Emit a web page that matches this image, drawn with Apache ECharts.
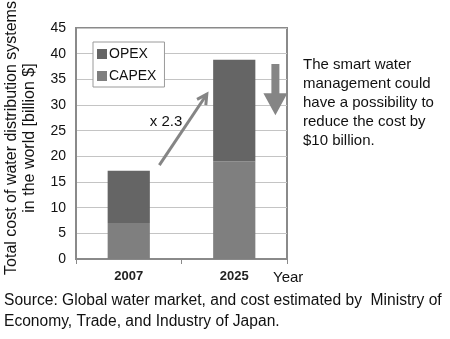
<!DOCTYPE html>
<html>
<head>
<meta charset="utf-8">
<script src="https://cdn.jsdelivr.net/npm/echarts@6/dist/echarts.min.js"></script>
<style>
  html, body { margin: 0; padding: 0; background: #fff; }
  #chart { width: 450px; height: 339px; }
</style>
</head>
<body>
<div id="chart"></div>
<script>
// Years on the category axis
const years = ['2007', '2025'];
// Cost breakdown in billion dollars
const capex = [7.0, 19.0];
const opex = [10.2, 19.8];
// Value axis ticks
const yMin = 0, yMax = 45, yStep = 5;
// Possible saving shown by the downward arrow (billion $)
const savingFrom = 38, savingTo = 28;
// Growth arrow end values and factor
const growthFrom = 18.3, growthTo = 32.1;
const growthLabel = 'x 2.3';

const FONT = '"Liberation Sans", Arial, sans-serif';
const chart = echarts.init(document.getElementById('chart'), null, { renderer: 'canvas' });

const grid = { left: 76, top: 28, width: 211, height: 231 };

chart.setOption({
  animation: false,
  backgroundColor: '#ffffff',
  grid: Object.assign({ show: true, borderColor: '#8a8a8a', borderWidth: 2, backgroundColor: 'transparent' }, grid),
  legend: {
    orient: 'vertical',
    left: 93, top: 42,
    width: 70,
    padding: [5, 8, 4, 4],
    itemWidth: 10, itemHeight: 10,
    itemGap: 8,
    borderColor: '#9a9a9a', borderWidth: 1,
    backgroundColor: '#fff',
    icon: 'rect',
    data: ['OPEX', 'CAPEX'],
    textStyle: { fontFamily: FONT, fontSize: 14, color: '#111', padding: [0, 0, 0, -3] }
  },
  xAxis: {
    type: 'category',
    data: years,
    boundaryGap: true,
    axisLine: { lineStyle: { color: '#8a8a8a', width: 2 } },
    axisTick: { show: true, length: 5, lineStyle: { color: '#8a8a8a', width: 1 } },
    axisLabel: { fontFamily: FONT, fontSize: 13, fontWeight: 'bold', color: '#222', margin: 11 },
    name: 'Year',
    nameLocation: 'end',
    nameGap: -14,
    nameTextStyle: { fontFamily: FONT, fontSize: 15, color: '#111', verticalAlign: 'top', align: 'left', padding: [11, 0, 0, 0] }
  },
  yAxis: {
    type: 'value',
    min: yMin, max: yMax, interval: yStep,
    axisLine: { show: true, lineStyle: { color: '#8a8a8a', width: 2 } },
    axisTick: { show: false },
    splitLine: { lineStyle: { color: '#c4c4c4', width: 1 } },
    axisLabel: { fontFamily: FONT, fontSize: 14, color: '#111', margin: 10 }
  },
  series: [
    {
      name: 'CAPEX', type: 'bar', stack: 'cost', data: capex,
      barWidth: '40%',
      itemStyle: { color: '#7f7f7f' }
    },
    {
      name: 'OPEX', type: 'bar', stack: 'cost', data: opex,
      barWidth: '40%',
      itemStyle: { color: '#656565' }
    }
  ]
});

// Annotation overlay: growth arrow, saving arrow, side note, axis title, source line
function px(cat, val) {
  return chart.convertToPixel({ gridIndex: 0 }, [cat, val]);
}
const c0 = px(0, 0), c1 = px(1, 0);
const band = c1[0] - c0[0];

const gStart = [c0[0] + 0.29 * band, px(0, growthFrom)[1]];
const gEnd = [c1[0] - 0.26 * band, px(1, growthTo)[1]];
const ang = Math.atan2(gEnd[1] - gStart[1], gEnd[0] - gStart[0]);
const headLen = 11, headSpread = 0.5;
const h1 = [gEnd[0] - headLen * Math.cos(ang - headSpread), gEnd[1] - headLen * Math.sin(ang - headSpread)];
const h2 = [gEnd[0] - headLen * Math.cos(ang + headSpread), gEnd[1] - headLen * Math.sin(ang + headSpread)];

const sx = c1[0] + 0.39 * band;
const sTop = px(1, savingFrom)[1];
const sTip = px(1, savingTo)[1];
const shaftHalf = 4, headHalf = 12, headH = 22;
const sHeadY = sTip - headH;

const arrowColor = '#858585';

chart.setOption({
  graphic: [
    {
      type: 'polyline',
      shape: { points: [gStart, gEnd] },
      style: { stroke: arrowColor, lineWidth: 3, fill: null }
    },
    {
      type: 'polyline',
      shape: { points: [h1, gEnd, h2] },
      style: { stroke: arrowColor, lineWidth: 3, fill: null, lineJoin: 'miter' }
    },
    {
      type: 'text',
      x: (gStart[0] + gEnd[0]) / 2 - 17, y: (gStart[1] + gEnd[1]) / 2 - 8,
      style: { text: growthLabel, fontFamily: FONT, fontSize: 15, fill: '#111', textAlign: 'center', textVerticalAlign: 'middle' }
    },
    {
      type: 'polygon',
      shape: {
        points: [
          [sx - shaftHalf, sTop], [sx + shaftHalf, sTop], [sx + shaftHalf, sHeadY],
          [sx + headHalf, sHeadY], [sx, sTip], [sx - headHalf, sHeadY], [sx - shaftHalf, sHeadY]
        ]
      },
      style: { fill: arrowColor }
    },
    {
      type: 'text',
      left: 303, top: 55,
      style: {
        text: 'The smart water\nmanagement could\nhave a possibility to\nreduce the cost by\n$10 billion.',
        fontFamily: FONT, fontSize: 15, lineHeight: 19, fill: '#111'
      }
    },
    {
      type: 'text',
      x: 21, y: 138,
      rotation: Math.PI / 2,
      style: {
        text: 'Total cost of water distribution systems\nin the world [billion $]',
        fontFamily: FONT, fontSize: 16, lineHeight: 18, fill: '#111',
        textAlign: 'center', textVerticalAlign: 'middle'
      }
    },
    {
      type: 'text',
      left: 4, top: 290,
      style: {
        text: 'Source: Global water market, and cost estimated by  Ministry of\nEconomy, Trade, and Industry of Japan.',
        fontFamily: FONT, fontSize: 15.6, lineHeight: 21, fill: '#111'
      }
    }
  ]
});
</script>
</body>
</html>
